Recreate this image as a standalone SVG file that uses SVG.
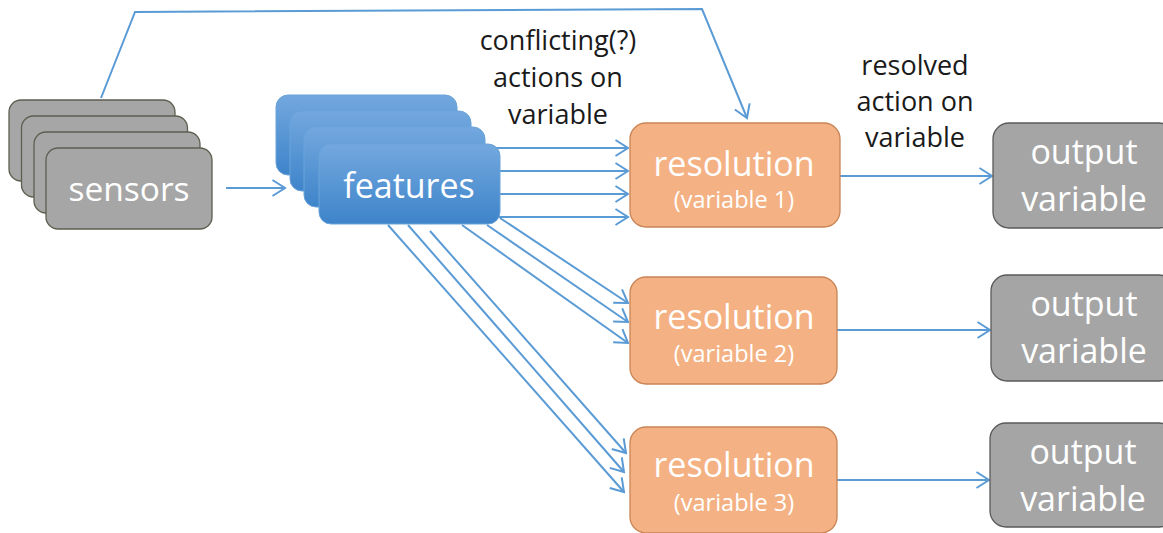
<svg xmlns="http://www.w3.org/2000/svg" width="1163" height="533" viewBox="0 0 1163 533">
  <defs>
    <linearGradient id="featGrad" x1="0" y1="0" x2="0" y2="1">
      <stop offset="0" stop-color="#73a8de"/>
      <stop offset="1" stop-color="#3e84ca"/>
    </linearGradient>
    <marker id="open" viewBox="-14 -10 16 20" markerWidth="16" markerHeight="20" refX="0" refY="0" orient="auto" markerUnits="userSpaceOnUse">
      <path d="M-12.5,-8 L0,0 L-12.5,8" fill="none" stroke="#5b9bd5" stroke-width="2" stroke-linejoin="miter"/>
    </marker>
    <style>
      .conn { fill: none; stroke: #5b9bd5; stroke-width: 2; marker-end: url(#open); }
      .sensor { fill: #a6a6a6; stroke: #5e5e50; stroke-width: 1.3; }
      .feat { fill: url(#featGrad); stroke: #6aa3da; stroke-width: 1; }
      .res { fill: #f4b183; stroke: #c98455; stroke-width: 1.3; }
      .out { fill: #a5a5a5; stroke: #5a5a5a; stroke-width: 1.3; }
      .big { font-family: "Open Sans", "Noto Sans", sans-serif; fill: #ffffff; text-anchor: middle; }
      .lbl { font-family: "Open Sans", "Noto Sans", sans-serif; font-size: 27px; fill: #1a1a1a; text-anchor: middle; }
    </style>
  </defs>

  <!-- connectors -->
  <g id="connectors">
    <path class="conn" d="M101,98 L135,12 L702,9 L747,118"/>
    <line class="conn" x1="226" y1="188" x2="285" y2="188"/>
    <!-- features to resolution 1 -->
    <line class="conn" x1="492" y1="148" x2="628" y2="148"/>
    <line class="conn" x1="499" y1="171" x2="628" y2="171"/>
    <line class="conn" x1="499" y1="194" x2="628" y2="194"/>
    <line class="conn" x1="496" y1="217" x2="628" y2="217"/>
    <!-- features to resolution 2 -->
    <line class="conn" x1="500" y1="218" x2="628" y2="303"/>
    <line class="conn" x1="487" y1="225" x2="628" y2="322"/>
    <line class="conn" x1="462" y1="225" x2="628" y2="343"/>
    <!-- features to resolution 3 -->
    <line class="conn" x1="430" y1="231" x2="626" y2="453"/>
    <line class="conn" x1="408" y1="225" x2="624" y2="472"/>
    <line class="conn" x1="388" y1="225" x2="624" y2="492"/>
    <!-- resolution to output -->
    <line class="conn" x1="839" y1="176" x2="992" y2="176"/>
    <line class="conn" x1="836" y1="330" x2="990" y2="330"/>
    <line class="conn" x1="836" y1="480" x2="989" y2="480"/>
  </g>

  <!-- sensors stack -->
  <g id="sensors">
    <rect class="sensor" x="9" y="100" width="166" height="81" rx="12"/>
    <rect class="sensor" x="21.5" y="116" width="166" height="81" rx="12"/>
    <rect class="sensor" x="34" y="132" width="166" height="81" rx="12"/>
    <rect class="sensor" x="46" y="148" width="166" height="81" rx="12"/>
    <text class="big" x="129" y="201" font-size="33.5">sensors</text>
  </g>

  <!-- features stack -->
  <g id="features">
    <rect class="feat" x="276" y="95" width="181" height="80" rx="12"/>
    <rect class="feat" x="290" y="111" width="181" height="80" rx="12"/>
    <rect class="feat" x="304" y="127" width="181" height="80" rx="12"/>
    <rect class="feat" x="319" y="144" width="181" height="80" rx="12"/>
    <text class="big" x="409" y="198" font-size="34">features</text>
  </g>

  <!-- resolution nodes -->
  <g id="resolution1">
    <rect class="res" x="630" y="123" width="210" height="104" rx="16"/>
    <text class="big" x="734" y="176" font-size="34">resolution</text>
    <text class="big" x="734" y="208" font-size="23.5">(variable 1)</text>
  </g>
  <g id="resolution2">
    <rect class="res" x="630" y="277" width="207" height="107" rx="16"/>
    <text class="big" x="734" y="329" font-size="34">resolution</text>
    <text class="big" x="734" y="362" font-size="23.5">(variable 2)</text>
  </g>
  <g id="resolution3">
    <rect class="res" x="630" y="427" width="207" height="106" rx="16"/>
    <text class="big" x="734" y="477" font-size="34">resolution</text>
    <text class="big" x="734" y="511" font-size="23.5">(variable 3)</text>
  </g>

  <!-- output nodes -->
  <g id="output1">
    <rect class="out" x="993" y="123" width="182" height="105" rx="16"/>
    <text class="big" x="1084" y="164" font-size="34">output</text>
    <text class="big" x="1084" y="211" font-size="34">variable</text>
  </g>
  <g id="output2">
    <rect class="out" x="991" y="275" width="184" height="106" rx="16"/>
    <text class="big" x="1084" y="316" font-size="34">output</text>
    <text class="big" x="1084" y="363" font-size="34">variable</text>
  </g>
  <g id="output3">
    <rect class="out" x="990" y="423" width="185" height="104" rx="16"/>
    <text class="big" x="1083" y="464" font-size="34">output</text>
    <text class="big" x="1083" y="511" font-size="34">variable</text>
  </g>

  <!-- connector labels -->
  <g id="labels">
    <text class="lbl" x="558" y="50">conflicting(?)</text>
    <text class="lbl" x="558" y="87">actions on</text>
    <text class="lbl" x="558" y="124">variable</text>
    <text class="lbl" x="915" y="75">resolved</text>
    <text class="lbl" x="915" y="111">action on</text>
    <text class="lbl" x="915" y="147">variable</text>
  </g>
</svg>
